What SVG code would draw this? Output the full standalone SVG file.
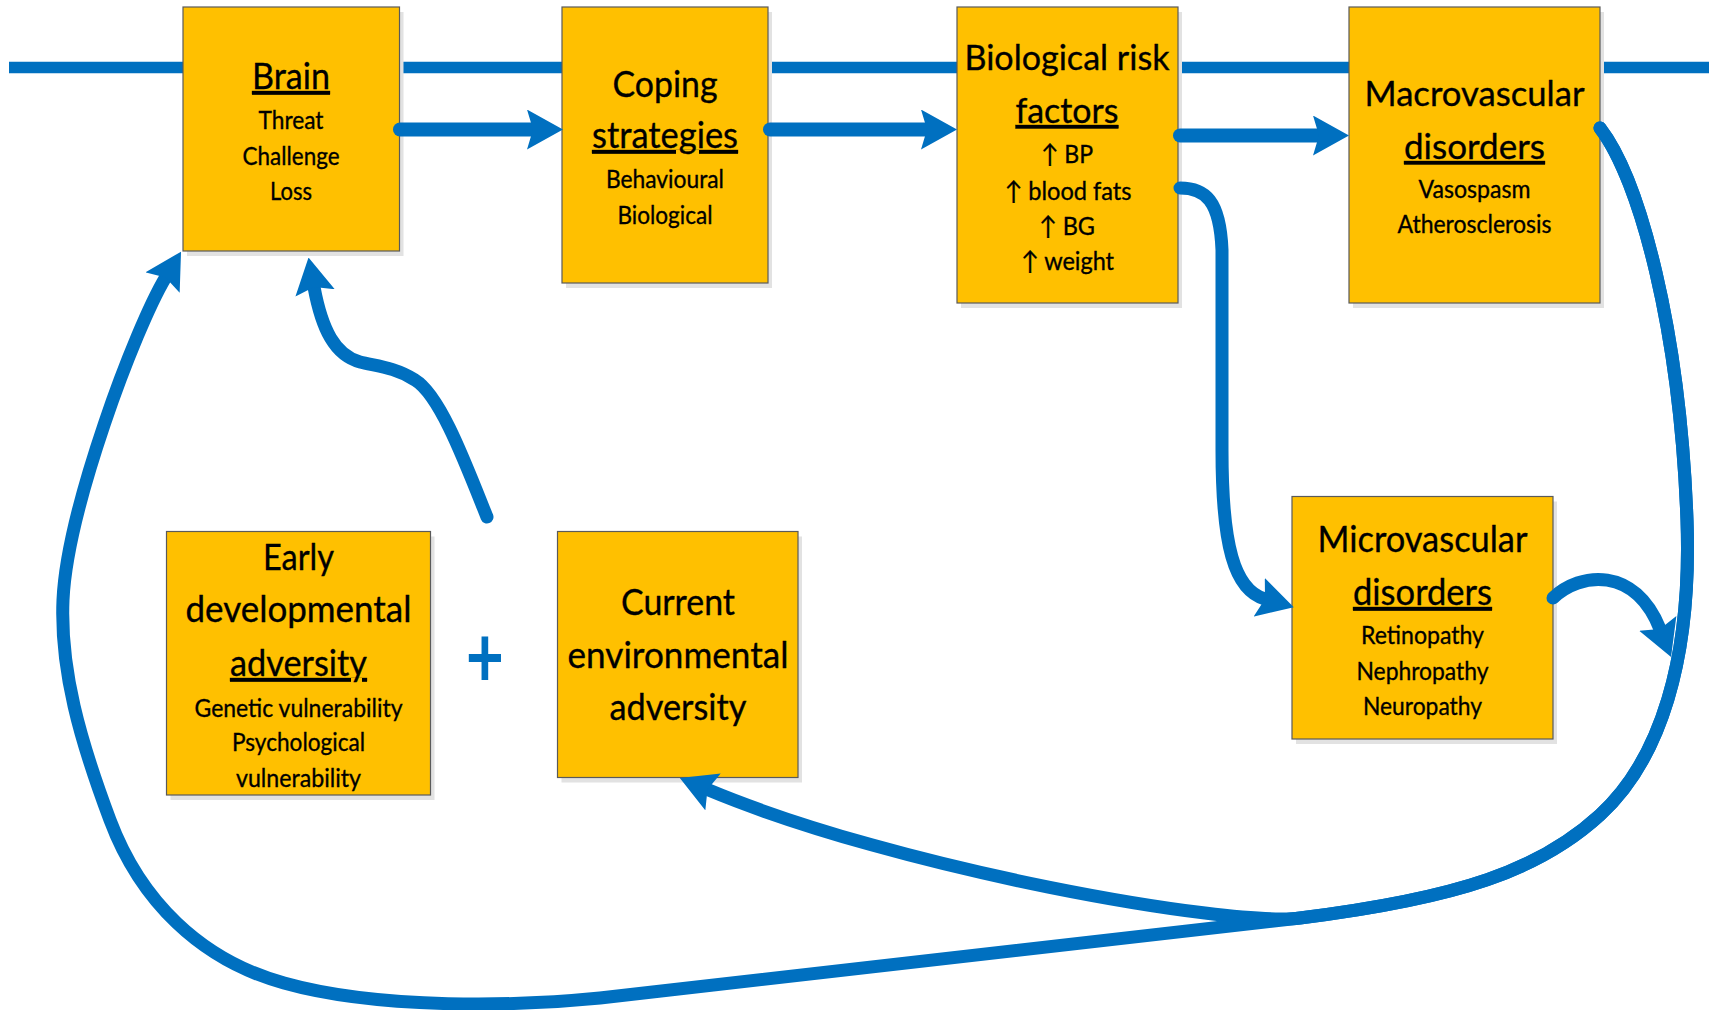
<svg xmlns="http://www.w3.org/2000/svg" width="1711" height="1010" viewBox="0 0 1711 1010">
<defs>
<style>
.box{fill:#FFC000;stroke:#5a5a5a;stroke-width:1.2}
.shadow{fill:#e2e2e2}
text{font-family:Lato,"DejaVu Sans",sans-serif;fill:#000;text-anchor:middle;stroke:#000;stroke-width:0.35}
.t{font-size:37.5px}
.tb{font-size:35.5px}
.s{font-size:25.5px}
.u{text-decoration:underline}
.c{fill:none;stroke:#0070C0;stroke-width:14;stroke-linecap:round}
.cc{fill:none;stroke:#0070C0;stroke-width:13;stroke-linecap:round;marker-end:url(#ah)}
</style>
<marker id="ah" markerUnits="userSpaceOnUse" viewBox="0 0 36 40" markerWidth="36" markerHeight="40" refX="6" refY="20" orient="auto">
<path d="M0,0 L36,20 L0,40 L6,20 Z" fill="#0070C0"/>
</marker>
</defs>
<rect width="1711" height="1010" fill="#fff"/>
<line x1="9" y1="67.5" x2="1709" y2="67.5" stroke="#0070C0" stroke-width="11.5"/>

<g id="brain">
<rect class="shadow" x="187" y="12" width="216.5" height="244"/>
<rect class="box" x="183" y="7" width="216.5" height="244"/>
<text class="t u" x="291" y="89" textLength="78" lengthAdjust="spacingAndGlyphs">Brain</text>
<text class="s" x="291" y="129" textLength="65" lengthAdjust="spacingAndGlyphs">Threat</text>
<text class="s" x="291" y="165" textLength="97" lengthAdjust="spacingAndGlyphs">Challenge</text>
<text class="s" x="291" y="200" textLength="42" lengthAdjust="spacingAndGlyphs">Loss</text>
</g>

<g id="coping">
<rect class="shadow" x="566" y="12" width="206" height="276"/>
<rect class="box" x="562" y="7" width="206" height="276"/>
<text class="t" x="665" y="97" textLength="105" lengthAdjust="spacingAndGlyphs">Coping</text>
<text class="t u" x="665" y="148" textLength="146" lengthAdjust="spacingAndGlyphs">strategies</text>
<text class="s" x="665" y="188" textLength="118" lengthAdjust="spacingAndGlyphs">Behavioural</text>
<text class="s" x="665" y="224" textLength="95" lengthAdjust="spacingAndGlyphs">Biological</text>
</g>

<g id="bio">
<rect class="shadow" x="961" y="12" width="221" height="296"/>
<rect class="box" x="957" y="7" width="221" height="296"/>
<text class="tb" x="1067" y="70" textLength="205" lengthAdjust="spacingAndGlyphs">Biological risk</text>
<text class="tb u" x="1067" y="123" textLength="103" lengthAdjust="spacingAndGlyphs">factors</text>
<text class="s" x="1067" y="163" textLength="52" lengthAdjust="spacingAndGlyphs">↑ BP</text>
<text class="s" x="1068" y="200" textLength="127" lengthAdjust="spacingAndGlyphs">↑ blood fats</text>
<text class="s" x="1067" y="235" textLength="56" lengthAdjust="spacingAndGlyphs">↑ BG</text>
<text class="s" x="1067.5" y="270" textLength="93" lengthAdjust="spacingAndGlyphs">↑ weight</text>
</g>

<g id="macro">
<rect class="shadow" x="1353" y="12" width="251" height="296"/>
<rect class="box" x="1349" y="7" width="251" height="296"/>
<text class="tb" x="1474.5" y="106" textLength="220" lengthAdjust="spacingAndGlyphs">Macrovascular</text>
<text class="tb u" x="1474.5" y="159" textLength="141" lengthAdjust="spacingAndGlyphs">disorders</text>
<text class="s" x="1474.5" y="198" textLength="112" lengthAdjust="spacingAndGlyphs">Vasospasm</text>
<text class="s" x="1474.5" y="233" textLength="154" lengthAdjust="spacingAndGlyphs">Atherosclerosis</text>
</g>

<g id="micro">
<rect class="shadow" x="1296" y="501.5" width="261" height="242.5"/>
<rect class="box" x="1292" y="496.5" width="261" height="242.5"/>
<text class="t" x="1422.5" y="552" textLength="210" lengthAdjust="spacingAndGlyphs">Microvascular</text>
<text class="t u" x="1422.5" y="605" textLength="139" lengthAdjust="spacingAndGlyphs">disorders</text>
<text class="s" x="1422.5" y="644" textLength="123" lengthAdjust="spacingAndGlyphs">Retinopathy</text>
<text class="s" x="1422.5" y="680" textLength="132" lengthAdjust="spacingAndGlyphs">Nephropathy</text>
<text class="s" x="1422.5" y="715" textLength="119" lengthAdjust="spacingAndGlyphs">Neuropathy</text>
</g>

<g id="early">
<rect class="shadow" x="170.5" y="536.5" width="264" height="263.5"/>
<rect class="box" x="166.5" y="531.5" width="264" height="263.5"/>
<text class="t" x="298.5" y="570" textLength="71" lengthAdjust="spacingAndGlyphs">Early</text>
<text class="t" x="298.5" y="622" textLength="226" lengthAdjust="spacingAndGlyphs">developmental</text>
<text class="t u" x="298.5" y="676" textLength="137" lengthAdjust="spacingAndGlyphs">adversity</text>
<text class="s" x="298.5" y="716.5" textLength="208" lengthAdjust="spacingAndGlyphs">Genetic vulnerability</text>
<text class="s" x="298.5" y="751" textLength="133" lengthAdjust="spacingAndGlyphs">Psychological</text>
<text class="s" x="298.5" y="787" textLength="125" lengthAdjust="spacingAndGlyphs">vulnerability</text>
</g>

<g id="current">
<rect class="shadow" x="561.5" y="536.5" width="240.5" height="246"/>
<rect class="box" x="557.5" y="531.5" width="240.5" height="246"/>
<text class="t" x="678" y="615" textLength="114" lengthAdjust="spacingAndGlyphs">Current</text>
<text class="t" x="678" y="668" textLength="221" lengthAdjust="spacingAndGlyphs">environmental</text>
<text class="t" x="678" y="720" textLength="137" lengthAdjust="spacingAndGlyphs">adversity</text>
</g>

<g id="plus">
<text transform="translate(485,657) scale(1,1.3)" x="0" y="22.8" font-size="66" font-weight="700" style="fill:#0070C0;stroke:none">+</text>
</g>

<g id="connectors">
<path class="c" marker-end="url(#ah)" d="M400,129.5 H533"/>
<path class="c" marker-end="url(#ah)" d="M770,129.5 H927"/>
<path class="c" marker-end="url(#ah)" d="M1180,135.5 H1319"/>
<path class="cc" d="M1180,188 C1205,188 1220,200 1222,250 L1222,450 C1222,545 1234,590 1265,599"/>
<path class="cc" d="M1553,598 C1580,572 1635,566 1660,629"/>
<path class="cc" d="M487,517 C465,462 440,395 415,380 C395,367 375,366 360,362 C335,355 322,330 314,287"/>
<path class="cc" d="M1600,128 C1640,180 1680,330 1687,520 C1692,660 1660,760 1600,815 C1540,870 1460,898 1300,918 C1230,927 900,870 707.5,789.6"/>
<path class="cc" d="M1600,128 C1640,180 1680,330 1687,520 C1692,660 1660,760 1600,815 C1540,870 1460,898 1300,918 L600,998 C520,1006 380,1010 284,983 C200,960 140,900 110,820 C80,740 60,670 63,600 C67,510 134.8,328.8 165.6,277.4"/>
</g>
</svg>
